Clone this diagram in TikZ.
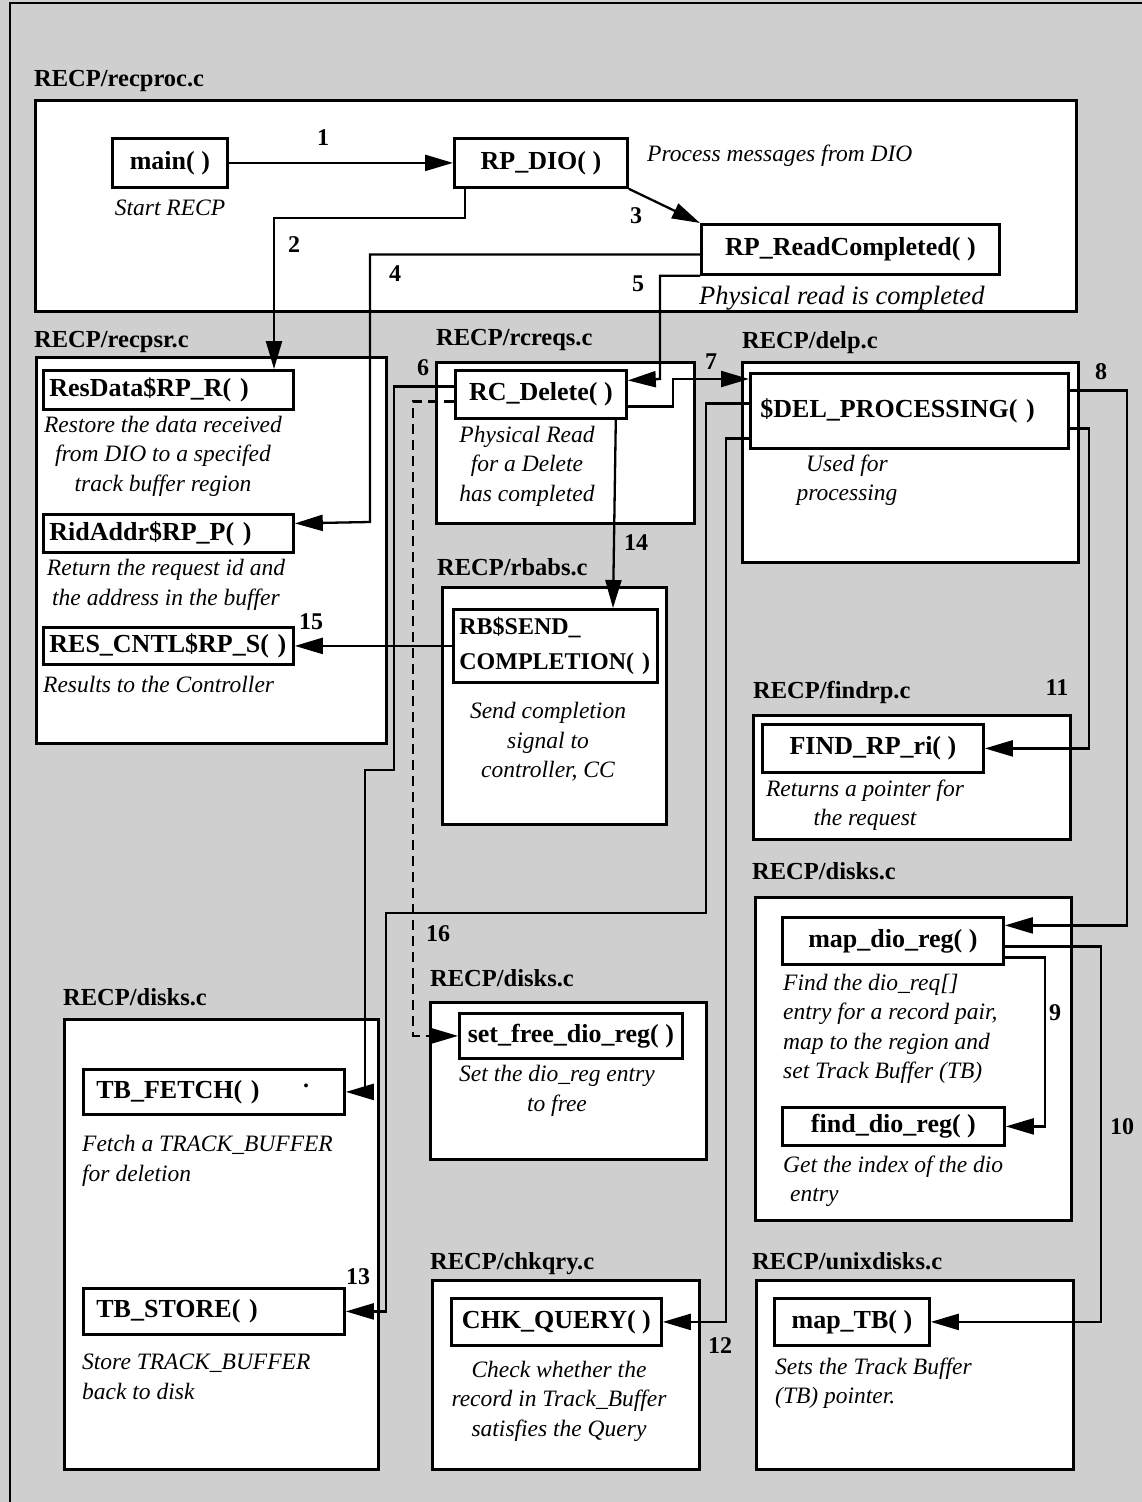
\documentclass[tikz,border=0pt]{standalone}
\usepackage{fontspec}
\setmainfont{Liberation Serif}
\usetikzlibrary{arrows.meta}
\newcommand\fnfont{\bfseries\fontsize{26}{31}\selectfont}
\newcommand\lblfont{\bfseries\fontsize{24.5}{29}\selectfont}
\newcommand\numfont{\bfseries\fontsize{24}{28}\selectfont}
\newcommand\descfont{\itshape\fontsize{23.5}{29.5}\selectfont}
\begin{document}
\begin{tikzpicture}[x=1pt,y=-1pt,
  filebox/.style={draw, line width=2.8pt, fill=white, anchor=north west, inner sep=0pt},
  fnbox/.style={draw, line width=2.8pt, fill=white, anchor=north west, inner sep=0pt, font=\fnfont},
  fnleft/.style={fnbox, align=left, inner xsep=#1},
  lbl/.style={font=\lblfont, anchor=base west, inner sep=0pt},
  num/.style={font=\numfont, inner sep=0pt},
  desc/.style={font=\descfont, align=center, inner sep=0pt},
  descl/.style={font=\descfont, align=left, anchor=west, inner sep=0pt},
  conn/.style={line width=2.3pt, -{Triangle[length=28pt,width=16pt]}},
  dconn/.style={conn, dash pattern=on 10pt off 6pt}]
\useasboundingbox (0,0) rectangle (1142,1502);
\fill[black!19] (0,0) rectangle (1142,1502);
\draw[line width=2.6pt] (10,1502) -- (10,3) -- (1142,3);

% ---------- file boxes ----------
\node[filebox, minimum width=1041pt, minimum height=211pt] (recproc) at (34,99) {};
\node[lbl] (recprocL) at (34,86) {RECP/recproc.c};
\node[filebox, minimum width=350pt, minimum height=386pt] (recpsr) at (35,356) {};
\node[lbl] (recpsrL) at (34,347) {RECP/recpsr.c};
\node[filebox, minimum width=258pt, minimum height=161pt] (rcreqs) at (435,361) {};
\node[lbl] (rcreqsL) at (436,345) {RECP/rcreqs.c};
\node[filebox, minimum width=336pt, minimum height=200pt] (delp) at (741,361) {};
\node[lbl] (delpL) at (742,348) {RECP/delp.c};
\node[filebox, minimum width=224pt, minimum height=237pt] (rbabs) at (441,586) {};
\node[lbl] (rbabsL) at (437,575) {RECP/rbabs.c};
\node[filebox, minimum width=317pt, minimum height=124pt] (findrp) at (752,714) {};
\node[lbl] (findrpL) at (753,698) {RECP/findrp.c};
\node[filebox, minimum width=316pt, minimum height=323pt] (disksR) at (754,896) {};
\node[lbl] (disksRL) at (752,879) {RECP/disks.c};
\node[filebox, minimum width=314pt, minimum height=450pt] (disksL) at (63,1018) {};
\node[lbl] (disksLL) at (63,1005) {RECP/disks.c};
\node[filebox, minimum width=276pt, minimum height=157pt] (disksM) at (429,1001) {};
\node[lbl] (disksML) at (430,986) {RECP/disks.c};
\node[filebox, minimum width=267pt, minimum height=189pt] (chkqry) at (431,1279) {};
\node[lbl] (chkqryL) at (430,1269) {RECP/chkqry.c};
\node[filebox, minimum width=317pt, minimum height=189pt] (unixdisks) at (755,1279) {};
\node[lbl] (unixdisksL) at (752,1269) {RECP/unixdisks.c};

% ---------- function boxes ----------
\node[fnbox, minimum width=115pt, minimum height=49pt] (main) at (111,137) {main( )};
\node[fnbox, minimum width=173pt, minimum height=49pt] (rpdio) at (453,137) {RP\_DIO( )};
\node[fnbox, minimum width=298pt, minimum height=50pt] (rprc) at (700,223) {RP\_ReadCompleted( )};
\node[fnleft=6pt, text width=238pt, minimum height=39pt] (resdata) at (42,369) {ResData\$RP\_R( )};
\node[fnleft=6pt, text width=238pt, minimum height=38pt] (ridaddr) at (42,513) {RidAddr\$RP\_P( )};
\node[fnleft=6pt, text width=238pt, minimum height=37pt] (rescntl) at (42,626) {RES\_CNTL\$RP\_S( )};
\node[fnbox, minimum width=171pt, minimum height=48pt] (rcdel) at (454,369) {RC\_Delete( )};
\node[fnleft=6pt, text width=192pt, minimum height=73pt, font=\bfseries\fontsize{24}{35}\selectfont] (rbsend) at (452,608) {RB\$SEND\_\\COMPLETION( )};
\node[fnleft=10pt, text width=298pt, minimum height=75pt] (delproc) at (749,372) {\$DEL\_PROCESSING( )};
\node[fnbox, minimum width=221pt, minimum height=48pt] (findfn) at (761,723) {FIND\_RP\_ri( )};
\node[fnbox, minimum width=221pt, minimum height=47pt] (mapdio) at (781,916) {map\_dio\_reg( )};
\node[fnbox, minimum width=222pt, minimum height=38pt] (finddio) at (781,1106) {find\_dio\_reg( )};
\node[fnbox, minimum width=155pt, minimum height=47pt] (maptb) at (773,1297) {map\_TB( )};
\node[fnbox, minimum width=210pt, minimum height=47pt] (chkq) at (450,1297) {CHK\_QUERY( )};
\node[fnbox, minimum width=223pt, minimum height=45pt] (setfree) at (458,1012) {set\_free\_dio\_reg( )};
\node[fnleft=13pt, text width=235pt, minimum height=45pt] (tbfetch) at (82,1068) {TB\_FETCH( )};
\node[fnleft=13pt, text width=235pt, minimum height=46pt] (tbstore) at (82,1287) {TB\_STORE( )};
\node[num] (tbdot) at (306,1086) {.};

% ---------- descriptions ----------
\node[desc] (dmain) at (170,208) {Start RECP};
\node[descl] (drpdio) at (647,156) {Process messages from DIO};
\node[descl, font=\itshape\fontsize{26.5}{30}\selectfont] (drprc) at (699,298) {Physical read is completed};
\node[desc] (dresdata) at (163,456) {Restore the data received\\from DIO to a specifed\\track buffer region};
\node[desc] (dridaddr) at (166,585) {Return the request id and\\the address in the buffer};
\node[descl] (drescntl) at (43,684) {Results to the Controller};
\node[desc] (drcdel) at (527,466) {Physical Read\\for a Delete\\has completed};
\node[desc] (drbsend) at (548,742) {Send completion\\signal to\\controller, CC};
\node[desc] (ddelproc) at (847,480) {Used for\\processing};
\node[desc] (dfindfn) at (865,805) {Returns a pointer for\\the request};
\node[descl] (dmapdio) at (783,1029) {Find the dio\_req[]\\entry for a record pair,\\map to the region and\\set Track Buffer (TB)};
\node[descl] (dfinddio) at (783,1181) {Get the index of the dio\\\hspace*{7pt}entry};
\node[descl] (dmaptb) at (775,1383) {Sets the Track Buffer\\(TB) pointer.};
\node[desc] (dsetfree) at (557,1091) {Set the dio\_reg entry\\to free};
\node[desc] (dchkq) at (559,1401) {Check whether the\\record in Track\_Buffer\\satisfies the Query};
\node[descl] (dtbfetch) at (82,1161) {Fetch a TRACK\_BUFFER\\for deletion};
\node[descl] (dtbstore) at (82,1377) {Store TRACK\_BUFFER\\back to disk};

% ---------- connectors ----------
\draw[conn] (main.east) -- (rpdio.west);
\draw[conn] ([xshift=12pt]rpdio.south west) -- ++(0,29) -| ([xshift=232pt]resdata.north west);
\draw[conn] (rpdio.south east) -- (rprc.north west);
\draw[conn] ([yshift=-5pt]rprc.west) -| (370,522) -- ([yshift=10pt]ridaddr.east);
\draw[conn] (rprc.south west) -| (660,379) -- ([yshift=14pt]rcdel.east);
\draw[conn] ([yshift=8pt]rcdel.west) -| (394,770) -| ([xshift=19pt]tbfetch.east) -- (tbfetch.east);
\draw[conn] ([yshift=-12pt]rcdel.east) -| (673,379) -- (delproc.west |- 0,379);
\draw[conn] ([yshift=20.5pt]delproc.east) -| ([xshift=122pt,yshift=15.5pt]mapdio.east) -- ([yshift=15.5pt]mapdio.east);
\draw[conn] ([yshift=-16.5pt]mapdio.east) -| ([xshift=39pt]finddio.east) -- (finddio.east);
\draw[conn] ([yshift=-5.5pt]mapdio.east) -| ([xshift=170pt]maptb.east) -- (maptb.east);
\draw[conn] ([yshift=-17.5pt]delproc.east) -| ([xshift=104pt]findfn.east) -- (findfn.east);
\draw[conn] ([yshift=-27.5pt]delproc.west) -| ([xshift=63pt]chkq.east) -- (chkq.east);
\draw[conn] ([yshift=7.5pt]delproc.west) -| (706,913) -| ([xshift=40pt]tbstore.east) -- (tbstore.east);
\draw[conn] ([xshift=-12pt]rcdel.south east) -- (rbsend.north -| 613,0);
\draw[conn] (rbsend.west |- rescntl.east) -- (rescntl.east);
\draw[dconn] ([yshift=-7pt]rcdel.west) -| ([xshift=-45pt]setfree.west) -- (setfree.west);

% ---------- numbers ----------
\node[num] (n1) at (323,138) {1};
\node[num] (n2) at (294,245) {2};
\node[num] (n3) at (636,216) {3};
\node[num] (n4) at (395,274) {4};
\node[num] (n5) at (638,284) {5};
\node[num] (n6) at (423,368) {6};
\node[num] (n7) at (711,362) {7};
\node[num] (n8) at (1101,372) {8};
\node[num] (n9) at (1055,1013) {9};
\node[num] (n10) at (1122,1127) {10};
\node[num] (n11) at (1057,688) {11};
\node[num] (n12) at (720,1346) {12};
\node[num] (n13) at (358,1277) {13};
\node[num] (n14) at (636,543) {14};
\node[num] (n15) at (311,622) {15};
\node[num] (n16) at (438,934) {16};
\end{tikzpicture}
\end{document}
